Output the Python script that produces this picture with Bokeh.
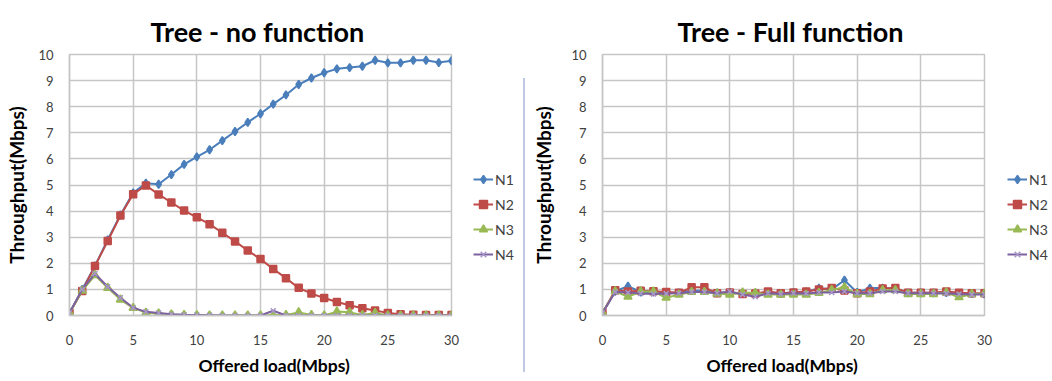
from bokeh.plotting import figure
from bokeh.layouts import row
from bokeh.models import Legend, LegendItem, Range1d, FixedTicker, Div, Title
from bokeh.embed import file_html
from bokeh.resources import INLINE

# ---------------- data ----------------
offered_load = list(range(31))
series_names = ["N1", "N2", "N3", "N4"]

left_title = "Tree - no function"
left_n1 = [0.1, 1.0, 1.9, 2.9, 3.85, 4.7, 5.07, 5.03, 5.4, 5.79, 6.08, 6.35, 6.7, 7.05, 7.4,
           7.73, 8.1, 8.45, 8.85, 9.1, 9.3, 9.45, 9.5, 9.55, 9.78, 9.68, 9.68, 9.78, 9.78, 9.69, 9.76]
left_n2 = [0.1, 0.94, 1.9, 2.85, 3.83, 4.65, 4.98, 4.64, 4.33, 4.02, 3.76, 3.5, 3.17, 2.84, 2.49,
           2.16, 1.78, 1.43, 1.06, 0.84, 0.67, 0.52, 0.39, 0.28, 0.19, 0.1, 0.05, 0.03, 0.02, 0.02, 0.02]
left_n3 = [0.1, 0.95, 1.54, 1.06, 0.61, 0.29, 0.11, 0.08, 0.04, 0.02, 0.01, 0.0, 0.0, 0.0, 0.0,
           0.0, 0.02, 0.02, 0.12, 0.02, 0.0, 0.15, 0.12, 0.02, 0.1, 0.0, 0.0, 0.0, 0.0, 0.0, 0.0]
left_n4 = [0.1, 1.0, 1.6, 1.1, 0.68, 0.3, 0.14, 0.1, 0.05, 0.03, 0.02, 0.01, 0.0, 0.0, 0.0,
           0.0, 0.18, 0.0, 0.0, 0.0, 0.0, 0.0, 0.0, 0.0, 0.0, 0.0, 0.0, 0.0, 0.0, 0.0, 0.0]

right_title = "Tree - Full function"
right_n1 = [0.1, 0.93, 1.12, 0.9, 0.9, 0.88, 0.87, 0.95, 0.95, 0.87, 0.88, 0.85, 0.85, 0.88, 0.85,
            0.88, 0.9, 1.05, 1.0, 1.35, 0.88, 1.05, 1.05, 1.03, 0.87, 0.87, 0.87, 0.88, 0.85, 0.84, 0.82]
right_n2 = [0.1, 0.97, 0.92, 0.95, 0.93, 0.9, 0.87, 1.08, 1.08, 0.85, 0.88, 0.82, 0.84, 0.92, 0.85,
            0.88, 0.92, 1.0, 1.05, 0.96, 0.85, 0.92, 1.03, 1.05, 0.87, 0.87, 0.87, 0.92, 0.87, 0.85, 0.85]
right_n3 = [0.1, 0.93, 0.72, 0.92, 0.92, 0.68, 0.8, 0.9, 0.9, 0.84, 0.8, 0.88, 0.86, 0.8, 0.8,
            0.8, 0.8, 0.86, 0.98, 1.08, 0.82, 0.82, 0.97, 0.97, 0.82, 0.82, 0.82, 0.88, 0.7, 0.82, 0.84]
right_n4 = [0.1, 0.9, 0.88, 0.84, 0.82, 0.84, 0.85, 0.9, 0.9, 0.85, 0.92, 0.8, 0.72, 0.85, 0.82,
            0.85, 0.84, 0.88, 0.88, 0.92, 0.85, 0.85, 0.92, 0.92, 0.85, 0.85, 0.85, 0.84, 0.82, 0.8, 0.8]

x_ticks = [0, 5, 10, 15, 20, 25, 30]
y_ticks = [0, 1, 2, 3, 4, 5, 6, 7, 8, 9, 10]
x_label = "Offered load(Mbps)"
y_label = "Throughput(Mbps)"

# ---------------- style ----------------
FONT = "Lato"
GRID = "#C6C6C6"
TICK_TXT = "#404040"
TOP, BOTTOM = 54, 66
NAN = float("nan")
styles = [
    dict(color="#4A7EBB", marker="diamond", size=8, mcolor="#4A7EBB"),
    dict(color="#BE4B48", marker="square", size=7, mcolor="#BE4B48"),
    dict(color="#98B954", marker="triangle", size=8, mcolor="#98B954"),
    dict(color="#7D60A0", marker="x", size=7, mcolor="#A796C8"),
]


def draw_series(p, xs, ys, st):
    lr = p.line(xs, ys, line_color=st["color"], line_width=2)
    sr = p.scatter(xs, ys, marker=st["marker"], size=st["size"],
                   fill_color=st["mcolor"], line_color=st["mcolor"], line_width=1.5)
    return lr, sr


def make_chart(title, data, b_left, ylab_standoff, title_offset, xlab_offset):
    p = figure(width=b_left + 382 + 10, height=381,
               x_range=Range1d(0, 30), y_range=Range1d(0, 10),
               output_backend="svg", toolbar_location=None,
               min_border_left=b_left, min_border_right=10,
               min_border_top=TOP, min_border_bottom=BOTTOM)
    p.background_fill_color = "white"
    p.border_fill_color = "white"
    p.outline_line_color = GRID
    p.outline_line_width = 1.5

    p.title.text = title
    p.title.align = "left"
    p.title.vertical_align = "top"
    p.title.text_font = FONT
    p.title.text_font_size = "27px"
    p.title.text_font_style = "bold"
    p.title.text_color = "black"
    p.title.standoff = 10
    p.title.offset = title_offset

    p.xaxis.ticker = FixedTicker(ticks=x_ticks)
    p.yaxis.ticker = FixedTicker(ticks=y_ticks)
    p.xgrid.ticker = FixedTicker(ticks=x_ticks)
    p.ygrid.ticker = FixedTicker(ticks=y_ticks)
    p.grid.grid_line_color = GRID
    p.grid.grid_line_width = 1.5

    for ax in (p.xaxis, p.yaxis):
        ax.axis_line_color = GRID
        ax.axis_line_width = 1.5
        ax.major_tick_line_color = None
        ax.minor_tick_line_color = None
        ax.major_tick_out = 0
        ax.major_tick_in = 0
        ax.major_label_text_font = FONT
        ax.major_label_text_font_size = "13px"
        ax.major_label_text_color = TICK_TXT
        ax.axis_label_text_font = FONT
        ax.axis_label_text_font_style = "bold"
        ax.axis_label_text_color = "black"

    p.yaxis.axis_label = y_label
    p.yaxis.axis_label_text_font_size = "19px"
    p.xaxis.major_label_standoff = 19
    p.yaxis.major_label_standoff = 16
    p.yaxis.axis_label_standoff = ylab_standoff

    # x axis title, placed like the original (not centred under the plot)
    p.add_layout(Title(text=x_label, align="left", offset=xlab_offset, standoff=10,
                       text_font=FONT, text_font_size="17.5px", text_font_style="bold",
                       text_color="black"), "below")

    for ys, st in zip(data, styles):
        draw_series(p, offered_load, ys, st)
    return p


def make_legend(width, legend_x):
    lg = figure(width=width, height=381, x_range=Range1d(0, 1), y_range=Range1d(0, 1),
                x_axis_type=None, y_axis_type=None, output_backend="svg",
                toolbar_location=None, min_border_left=0, min_border_right=0,
                min_border_top=TOP, min_border_bottom=BOTTOM)
    lg.outline_line_color = None
    lg.background_fill_color = "white"
    lg.border_fill_color = "white"
    items = []
    for name, st in zip(series_names, styles):
        # placeholder renderers (no visible point) that only carry the legend styling
        lr, sr = draw_series(lg, [NAN], [NAN], st)
        items.append(LegendItem(label=name, renderers=[lr, sr]))
    legend = Legend(items=items, location=(legend_x, 51), border_line_color=None,
                    background_fill_alpha=0, padding=0, margin=0, spacing=5,
                    glyph_width=20, glyph_height=20, label_height=20,
                    label_standoff=2, label_text_font=FONT,
                    label_text_font_size="14px", label_text_color=TICK_TXT)
    lg.add_layout(legend)
    return lg


left = make_chart(left_title, [left_n1, left_n2, left_n3, left_n4], 69, 7, 81, 129)
left_leg = make_legend(61, 12)
right = make_chart(right_title, [right_n1, right_n2, right_n3, right_n4], 76, 13, 75, 104)
right_leg = make_legend(58, 13)

divider = Div(width=4, height=381, margin=0,
              text='<div style="position:absolute;left:1px;top:78px;width:2px;height:294px;'
                   'background:#B4BEE0;opacity:0.85"></div>')

layout = row(left, left_leg, divider, right, right_leg, spacing=0)
open("out.html", "w").write(file_html(layout, INLINE))
